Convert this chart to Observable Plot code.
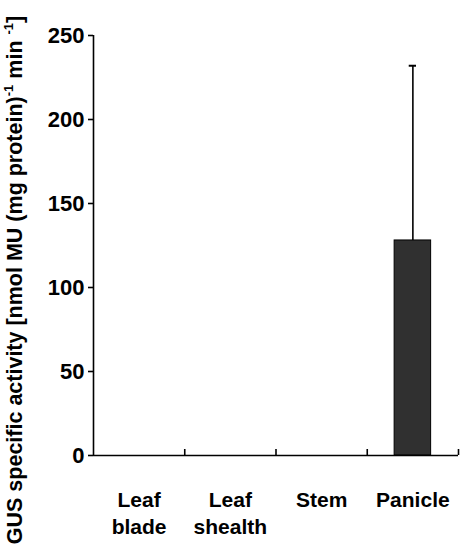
<!DOCTYPE html>
<html>
<head>
<meta charset="utf-8">
<script src="https://cdn.jsdelivr.net/npm/d3@7"></script>
<script src="https://cdn.jsdelivr.net/npm/@observablehq/plot@0.6"></script>
<style>
  html, body { margin: 0; padding: 0; background: #fff; }
  #chart svg { display: block; }
</style>
</head>
<body>
<div id="chart"></div>
<script>
const categories = ["Leaf\nblade", "Leaf\nshealth", "Stem", "Panicle"];
const values = [0, 0, 0, 128];
const errors = [0, 0, 0, 104];
const yTicks = [0, 50, 100, 150, 200, 250];

const table = categories.map((c, i) => ({i, cat: c, value: values[i], err: errors[i]}));
const withErr = table.filter(d => d.err > 0);
const half = 0.2;
const capHalf = 0.04;
const font = "'Liberation Sans', Arial, Helvetica, sans-serif";

const chart = Plot.plot({
  width: 460,
  height: 551,
  marginLeft: 93,
  marginRight: 2,
  marginTop: 35,
  marginBottom: 96,
  style: {fontFamily: font, fontSize: "21px", fontWeight: "bold", color: "#000", background: "#fff"},
  x: {type: "linear", domain: [0, categories.length], axis: null},
  y: {domain: [0, 250], axis: null},
  marks: [
    Plot.rectY(table, {x1: d => d.i + 0.5 - half, x2: d => d.i + 0.5 + half, y1: 0, y2: "value", fill: "#303030", stroke: "#000", strokeWidth: 1}),
    Plot.ruleX(withErr, {x: d => d.i + 0.5, y1: "value", y2: d => d.value + d.err, stroke: "#000", strokeWidth: 1.6}),
    Plot.ruleY(withErr, {y: d => d.value + d.err, x1: d => d.i + 0.5 - capHalf, x2: d => d.i + 0.5 + capHalf, stroke: "#000", strokeWidth: 2}),
    Plot.axisY({ticks: yTicks, tickSize: 5, tickPadding: 4, label: null, fontSize: 22, fontWeight: "bold", strokeWidth: 1.6}),
    Plot.axisX({ticks: d3.range(1, categories.length + 1), tickSize: -6, tickFormat: () => "", label: null, strokeWidth: 1.6}),
    Plot.ruleX([0], {stroke: "#000", strokeWidth: 1.6}),
    Plot.ruleY([0], {stroke: "#000", strokeWidth: 1.6}),
    Plot.text(table, {x: d => d.i + 0.5, y: 0, text: "cat", lineAnchor: "top", dy: 32, lineHeight: 1.3, fontSize: 21, fontWeight: "bold", fill: "#000"})
  ]
});

document.getElementById("chart").appendChild(chart);

// rotated y-axis title with superscripts
const svg = d3.select(chart);
const t = svg.append("text")
  .attr("transform", "translate(22,280) rotate(-90)")
  .attr("text-anchor", "middle")
  .attr("font-family", font)
  .attr("font-size", 21.5)
  .attr("font-weight", "bold")
  .attr("fill", "#000");
t.append("tspan").text("GUS specific activity [nmol MU (mg protein)");
t.append("tspan").attr("font-size", 13).attr("dy", -9).text("-1");
t.append("tspan").attr("dy", 9).text(" min ");
t.append("tspan").attr("font-size", 13).attr("dy", -9).text("-1");
t.append("tspan").attr("dy", 9).text("]");
</script>
</body>
</html>
